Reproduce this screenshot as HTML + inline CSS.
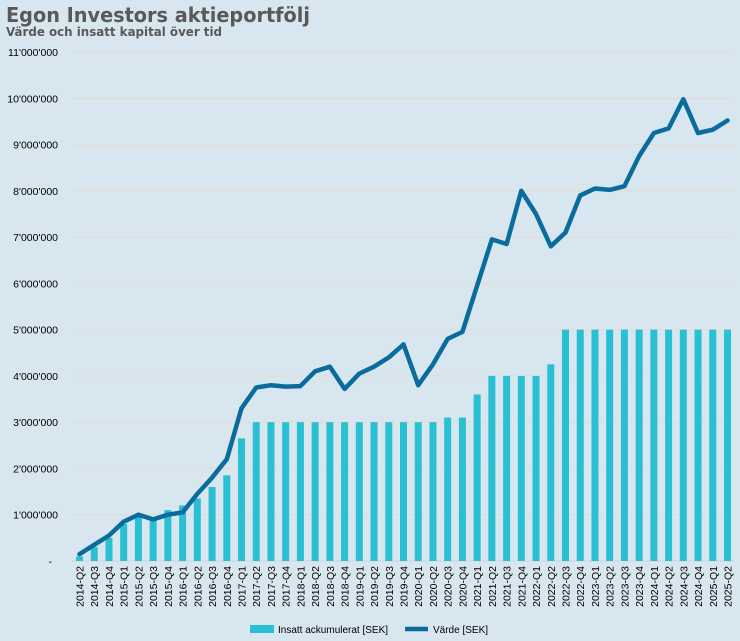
<!DOCTYPE html>
<html><head><meta charset="utf-8"><style>
body{margin:0;background:#d7e6ef;font-family:"Liberation Sans",Arial,sans-serif}
#wrap{position:relative;width:740px;height:641px;background:#d7e6ef;overflow:hidden}
</style></head><body>
<div id="wrap">
<svg id="chart" width="740" height="641">
<text x="6" y="22" font-size="20" font-family="DejaVu Sans, sans-serif" font-weight="bold" fill="#595959" textLength="304" lengthAdjust="spacingAndGlyphs">Egon Investors aktieportfölj</text>
<text x="6" y="36" font-size="12.5" font-family="DejaVu Sans, sans-serif" font-weight="bold" fill="#595959" textLength="216" lengthAdjust="spacingAndGlyphs">Värde och insatt kapital över tid</text>
</svg>
</div>
<script>
const categories=["2014-Q2","2014-Q3","2014-Q4","2015-Q1","2015-Q2","2015-Q3","2015-Q4","2016-Q1","2016-Q2","2016-Q3","2016-Q4","2017-Q1","2017-Q2","2017-Q3","2017-Q4","2018-Q1","2018-Q2","2018-Q3","2018-Q4","2019-Q1","2019-Q2","2019-Q3","2019-Q4","2020-Q1","2020-Q2","2020-Q3","2020-Q4","2021-Q1","2021-Q2","2021-Q3","2021-Q4","2022-Q1","2022-Q2","2022-Q3","2022-Q4","2023-Q1","2023-Q2","2023-Q3","2023-Q4","2024-Q1","2024-Q2","2024-Q3","2024-Q4","2025-Q1","2025-Q2"];
const insatt=[0.1,0.3,0.5,0.8,0.95,0.9,1.1,1.2,1.35,1.6,1.85,2.65,3,3,3,3,3,3,3,3,3,3,3,3,3,3.1,3.1,3.6,4,4,4,4,4.25,5,5,5,5,5,5,5,5,5,5,5,5];
const varde=[0.15,0.35,0.55,0.85,1.0,0.9,1.0,1.05,1.45,1.8,2.2,3.3,3.75,3.8,3.77,3.78,4.1,4.2,3.72,4.05,4.2,4.4,4.68,3.8,4.25,4.8,4.95,5.95,6.95,6.85,8.0,7.5,6.8,7.1,7.9,8.05,8.02,8.1,8.75,9.25,9.35,9.98,9.25,9.32,9.52];
const yTicks=[0,1,2,3,4,5,6,7,8,9,10,11];
const yTickLabels=["-","1'000'000","2'000'000","3'000'000","4'000'000","5'000'000","6'000'000","7'000'000","8'000'000","9'000'000","10'000'000","11'000'000"];

const NS="http://www.w3.org/2000/svg";
const svg=document.getElementById('chart');
const x0=79.5,x1=727.5,yZero=561,yTop=52,yMax=11;
function xs(i){return x0+i*(x1-x0)/(categories.length-1);}
function ys(v){return yZero-(v/yMax)*(yZero-yTop);}
function mk(t,a){const e=document.createElementNS(NS,t);for(const k in a)e.setAttribute(k,a[k]);svg.appendChild(e);return e;}

yTicks.forEach((t,i)=>{
 const g=mk('line',{x1:72,x2:735,y1:ys(t),y2:ys(t),stroke:t===0?'#cfd6d9':'#e6dccf','stroke-width':1});
 
 
 const l=mk('text',{x:t===0?52:58,y:ys(t)+4,'font-size':10.5,'text-anchor':'end',fill:'#000'});
 l.textContent=yTickLabels[i];
 
 
});
insatt.forEach((v,i)=>{
 const b=mk('rect',{x:xs(i)-3.5,y:ys(v),width:7,height:yZero-ys(v),fill:'#2bbfd3'});
 
 
});
let d=varde.map((v,i)=>(i?'L':'M')+xs(i).toFixed(1)+','+ys(v).toFixed(1)).join(' ');
const line=mk('path',{d:d,fill:'none',stroke:'#0a6c9c','stroke-width':4.5,'stroke-linejoin':'round','stroke-linecap':'round'});


categories.forEach((c,i)=>{
 const t=mk('text',{x:0,y:0,'font-size':10.5,'text-anchor':'end',fill:'#000',transform:`translate(${xs(i)+4},566) rotate(-90)`});
 t.textContent=c;
 
 
});
const lr=mk('rect',{x:250,y:625,width:24,height:8,fill:'#2bbfd3'});


const lt=mk('text',{x:278,y:633,'font-size':10,fill:'#000'});lt.textContent='Insatt ackumulerat [SEK]';


const ll=mk('line',{x1:405,x2:428,y1:629,y2:629,stroke:'#0a6c9c','stroke-width':4.5});


const lt2=mk('text',{x:433,y:633,'font-size':10,fill:'#000'});lt2.textContent='Värde [SEK]';


</script>
</body></html>
